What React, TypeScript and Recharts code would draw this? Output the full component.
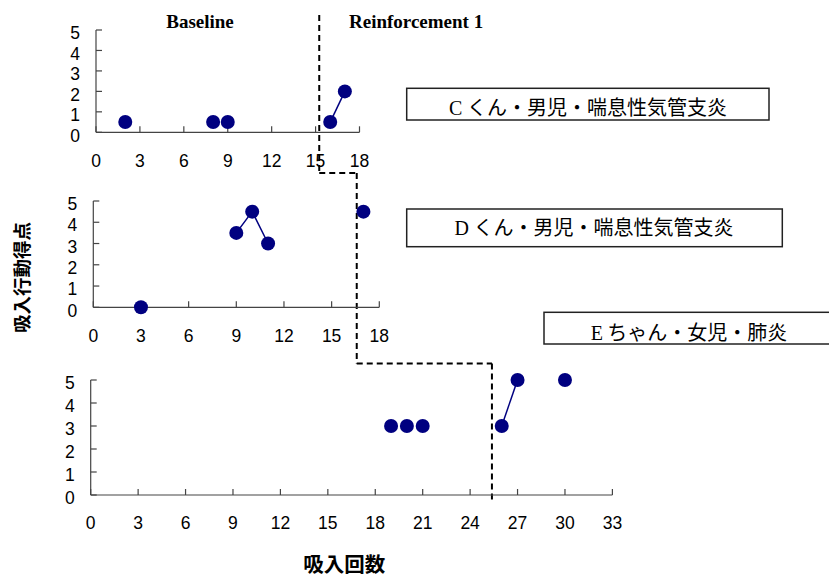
import React from 'react';
import { ScatterChart, Scatter, XAxis, YAxis, ReferenceLine } from 'recharts';

// ---- data ----
const cSessions = [2, 8, 9, 16, 17];
const cScores = [0.5, 0.5, 0.5, 0.5, 2];
const cJoined = [16, 17];

const dSessions = [3, 9, 10, 11, 17];
const dScores = [0, 3.5, 4.5, 3, 4.5];
const dJoined = [9, 10, 11];

const eSessions = [19, 20, 21, 26, 27, 30];
const eScores = [3, 3, 3, 3, 5, 5];
const eJoined = [26, 27];

const ticks18 = [0, 3, 6, 9, 12, 15, 18];
const ticks33 = [0, 3, 6, 9, 12, 15, 18, 21, 24, 27, 30, 33];
const scoreTicks = [0, 1, 2, 3, 4, 5];

const phaseNames = ['Baseline', 'Reinforcement 1'];
const childLabels = [
  ['C', 'くん・男児・喘息性気管支炎'],
  ['D', 'くん・男児・喘息性気管支炎'],
  ['E', 'ちゃん・女児・肺炎'],
];
const yTitle = '吸入行動得点';
const xTitle = '吸入回数';

const NAVY = '#000080';
const AXIS = '#444';
const SANS = '"Liberation Sans", Arial, sans-serif';
const SERIF = '"Liberation Serif", "Times New Roman", serif';
const CJK = '"Noto Sans CJK JP", "Noto Sans", sans-serif';

const build = (s: number[], v: number[]) => s.map((x, i) => ({ x, y: v[i] }));
const pick = (s: number[], v: number[], keep: number[]) =>
  build(s, v).filter((p) => keep.includes(p.x));

const Dot = (p: any) => <circle cx={p.cx} cy={p.cy} r={7} fill={NAVY} />;

const XTick = (p: any) => (
  <text x={p.x} y={p.y} dy="0.71em" textAnchor="middle" fontSize={17.5} fontFamily={SANS} fill="#000">
    {p.payload.value}
  </text>
);
const YTick = (p: any) => (
  <text x={p.x} y={p.y + 3} dy="0.355em" textAnchor="end" fontSize={17.5} fontFamily={SANS} fill="#000">
    {p.payload.value}
  </text>
);

type Seg = { x1: number; y1: number; x2: number; y2: number };

function Panel(props: {
  left: number; top: number; width: number; height: number;
  margin: { top: number; right: number; bottom: number; left: number };
  sessions: number[]; scores: number[]; joined: number[];
  xMax: number; xTicks: number[]; segs: Seg[];
}) {
  const { sessions, scores, joined } = props;
  const all = build(sessions, scores);
  const line = pick(sessions, scores, joined);
  return (
    <div style={{ position: 'absolute', left: props.left, top: props.top }}>
      <ScatterChart width={props.width} height={props.height} margin={props.margin}>
        <XAxis
          type="number"
          dataKey="x"
          domain={[0, props.xMax]}
          ticks={props.xTicks}
          interval={0}
          height={30}
          tickSize={-6}
          tickMargin={28}
          axisLine={{ stroke: AXIS, strokeWidth: 1.2 }}
          tickLine={{ stroke: AXIS, strokeWidth: 1.2 }}
          tick={<XTick />}
        />
        <YAxis
          type="number"
          dataKey="y"
          domain={[0, 5]}
          ticks={scoreTicks}
          interval={0}
          width={60}
          tickSize={-6}
          tickMargin={22}
          axisLine={{ stroke: AXIS, strokeWidth: 1.2 }}
          tickLine={{ stroke: AXIS, strokeWidth: 1.2 }}
          tick={<YTick />}
        />
        {props.segs.map((s, i) => (
          <ReferenceLine
            key={i}
            segment={[{ x: s.x1, y: s.y1 }, { x: s.x2, y: s.y2 }]}
            stroke="#000"
            strokeWidth={2}
            strokeDasharray="6 4"
            ifOverflow="visible"
          />
        ))}
        <Scatter
          data={line}
          line={{ stroke: NAVY, strokeWidth: 1.5 }}
          lineType="joint"
          shape={() => null}
          isAnimationActive={false}
        />
        <Scatter data={all} shape={Dot} isAnimationActive={false} />
      </ScatterChart>
    </div>
  );
}

export default function App() {
  return (
    <div style={{ position: 'absolute', left: 0, top: 0, width: 829, height: 576, background: '#fff' }}>
      <Panel
        left={0} top={0} width={400} height={180}
        margin={{ top: 30, right: 40.5, bottom: 17.7, left: 36 }}
        sessions={cSessions} scores={cScores} joined={cJoined}
        xMax={18} xTicks={ticks18}
        segs={[
          { x1: 15.25, y1: 5.73, x2: 15.25, y2: -1.99 },
          { x1: 15.25, y1: -1.99, x2: 17.81, y2: -1.99 },
        ]}
      />
      <Panel
        left={0} top={170} width={520} height={200}
        margin={{ top: 31, right: 140.7, bottom: 32.7, left: 33.3 }}
        sessions={dSessions} scores={dScores} joined={dJoined}
        xMax={18} xTicks={ticks18}
        segs={[
          { x1: 16.58, y1: 6.32, x2: 16.58, y2: -2.64 },
          { x1: 16.58, y1: -2.64, x2: 25.09, y2: -2.64 },
        ]}
      />
      <Panel
        left={0} top={355} width={829} height={221}
        margin={{ top: 25, right: 216.6, bottom: 51, left: 30.7 }}
        sessions={eSessions} scores={eScores} joined={eJoined}
        xMax={33} xTicks={ticks33}
        segs={[{ x1: 25.38, y1: 5.72, x2: 25.38, y2: -0.3 }]}
      />
      <svg
        width={829}
        height={576}
        style={{ position: 'absolute', left: 0, top: 0, pointerEvents: 'none' }}
      >
        <text x={200} y={28} textAnchor="middle" fontFamily={SERIF} fontWeight="bold" fontSize={19} fill="#000">
          {phaseNames[0]}
        </text>
        <text x={349} y={28} textAnchor="start" fontFamily={SERIF} fontWeight="bold" fontSize={19} fill="#000">
          {phaseNames[1]}
        </text>

        <rect x={406.7} y={88.3} width={362.3} height={31.7} fill="#fff" stroke="#222" strokeWidth={1.5} />
        <text x={588} y={115.3} textAnchor="middle" fontSize={20} fill="#000">
          <tspan fontFamily={SERIF}>{childLabels[0][0]}</tspan>
          <tspan fontFamily={CJK}>{' ' + childLabels[0][1]}</tspan>
        </text>

        <rect x={406.7} y={209} width={375.6} height={37.7} fill="#fff" stroke="#222" strokeWidth={1.5} />
        <text x={594} y={235.3} textAnchor="middle" fontSize={20} fill="#000">
          <tspan fontFamily={SERIF}>{childLabels[1][0]}</tspan>
          <tspan fontFamily={CJK}>{' ' + childLabels[1][1]}</tspan>
        </text>

        <rect x={544} y={312.3} width={300} height={31.7} fill="#fff" stroke="#222" strokeWidth={1.5} />
        <text x={689} y={339.6} textAnchor="middle" fontSize={20} fill="#000">
          <tspan fontFamily={SERIF}>{childLabels[2][0]}</tspan>
          <tspan fontFamily={CJK}>{' ' + childLabels[2][1]}</tspan>
        </text>

        <g transform="translate(22,277.5) rotate(-90)">
          <text x={0} y={0} dy="0.38em" textAnchor="middle" fontFamily={CJK} fontWeight="bold" fontSize={18.5} fill="#000">
            {yTitle}
          </text>
        </g>
        <text x={344.3} y={571.5} textAnchor="middle" fontFamily={CJK} fontWeight="bold" fontSize={20.5} fill="#000">
          {xTitle}
        </text>
      </svg>
    </div>
  );
}
